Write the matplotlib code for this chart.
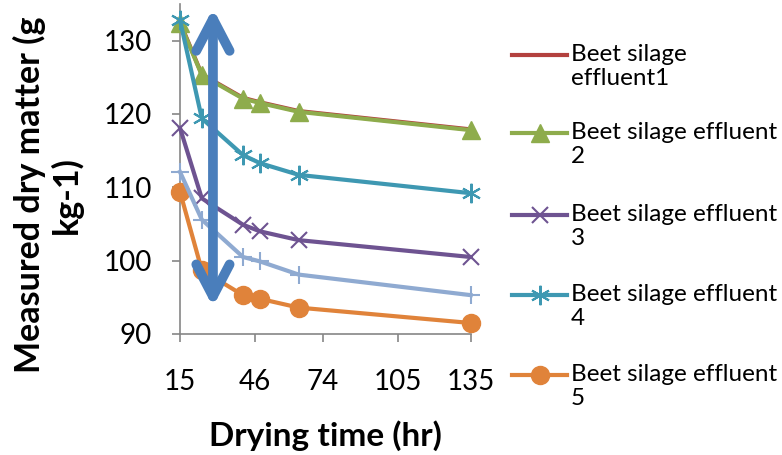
import matplotlib
matplotlib.use('Agg')
import matplotlib.pyplot as plt
from matplotlib.lines import Line2D

plt.rcParams['font.family'] = ['Lato', 'DejaVu Sans']

# drying time (hr) and measured dry matter (g kg-1)
times = [15, 24, 41, 48, 64, 135]
eff1 = [132.5, 125.4, 122.2, 121.6, 120.4, 117.9]
eff2 = [132.4, 125.3, 122.1, 121.5, 120.3, 117.8]
eff3 = [118.1, 108.5, 104.9, 104.0, 102.8, 100.5]
eff4 = [132.8, 119.4, 114.4, 113.3, 111.7, 109.2]
eff5 = [109.4, 98.7, 95.3, 94.8, 93.6, 91.5]
eff6 = [112.1, 105.6, 100.5, 99.9, 98.1, 95.3]
xticks = [15, 46, 74, 105, 135]
yticks = [90, 100, 110, 120, 130]

labels = ['Beet silage\neffluent1', 'Beet silage effluent\n2', 'Beet silage effluent\n3',
          'Beet silage effluent\n4', 'Beet silage effluent\n5']

asterisk = (6, 2, 0)
styles = [
    dict(color='#B3413E', marker=None),
    dict(color='#8EAC4C', marker='^', ms=13),
    dict(color='#6E5391', marker='x', ms=12, mew=1.5),
    dict(color='#3E98B2', marker=asterisk, ms=14, mew=1.5),
    dict(color='#E0833A', marker='o', ms=13),
]

fig = plt.figure(figsize=(7.82, 4.55), dpi=100)
ax = fig.add_axes([180/782, 1-334/455, 290.7/782, 330/455])

series = [eff1, eff2, eff3, eff4, eff5]
for vals, st in zip(series, styles):
    ax.plot(times, vals, lw=3, clip_on=False, zorder=3, **st)
ax.plot(times, eff6, lw=3, color='#8FAAD1', marker='+', ms=13, mew=1.5,
        clip_on=False, zorder=3)

ax.annotate('', xy=(28.6, 134.4), xytext=(28.6, 93.7),
            arrowprops=dict(arrowstyle='<->,head_length=1.15,head_width=0.6',
                            color='#4A7EBB', lw=7, shrinkA=0, shrinkB=0,
                            mutation_scale=20, capstyle='round', joinstyle='round'),
            zorder=5)

ax.set_xlim(15, 135)
ax.set_ylim(90, 135)
ax.set_xticks(xticks)
ax.set_yticks(yticks)
for s in ['top', 'right']:
    ax.spines[s].set_visible(False)
for s in ['left', 'bottom']:
    ax.spines[s].set_color('#868686')
    ax.spines[s].set_linewidth(1.2)
ax.tick_params(axis='both', color='#868686', width=1.2, length=6, labelsize=20)
ax.tick_params(axis='y', pad=14)
ax.tick_params(axis='x', pad=19)

fig.text(48/782, 1-195/455, 'Measured dry matter (g\nkg-1)', rotation=90,
         ha='center', va='center', multialignment='center',
         fontsize=24.5, fontweight='bold', linespacing=1.15)
fig.text(325/782, 1-446/455, 'Drying time (hr)', ha='center', va='baseline',
         fontsize=24, fontweight='bold')

# legend drawn at the right
rows = [55, 133, 215, 295, 375]
for yy, st in zip(rows, styles):
    yf = 1 - yy/455
    kw = dict(st)
    fig.add_artist(Line2D([512/782, 539.5/782, 567/782], [yf, yf, yf], lw=3,
                          transform=fig.transFigure, color=kw.pop('color'),
                          marker=kw.pop('marker'), markevery=[1], **kw))
for yy, lab in zip(rows, labels):
    fig.text(571/782, 1-(yy-11)/455, lab, ha='left', va='top', fontsize=17.5,
             linespacing=1.2)

fig.savefig('out.png', dpi=100)
